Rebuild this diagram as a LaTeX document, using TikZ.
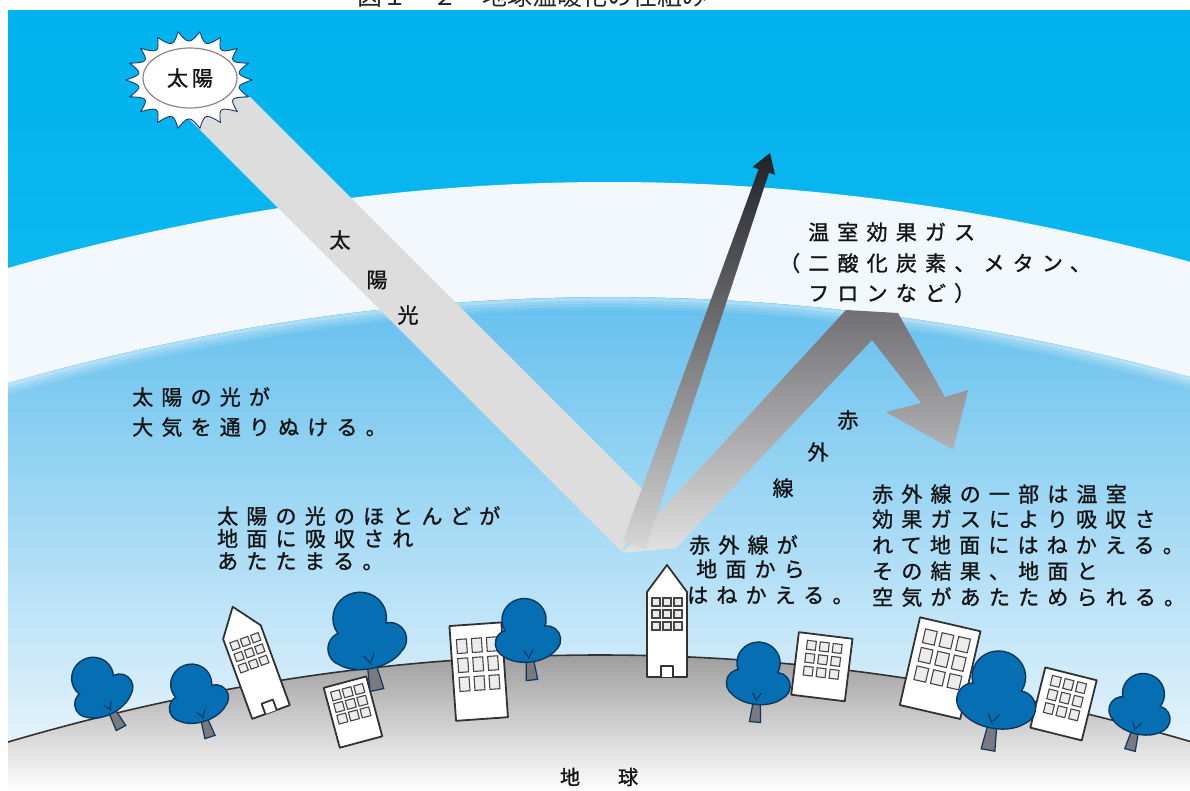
\documentclass[tikz,border=0pt]{standalone}
\usepackage{fontspec}
\newfontfamily\jp[FakeBold=1.2]{Noto Sans CJK JP}
\newfontfamily\jpsp[LetterSpace=39,FakeBold=1.2]{Noto Sans CJK JP}
\newfontfamily\jplight{Noto Sans CJK JP}
\usetikzlibrary{calc}

\definecolor{skytop}{RGB}{0,178,238}
\definecolor{skynear}{RGB}{18,186,240}
\definecolor{bandwhite}{RGB}{243,248,252}
\definecolor{lowtop}{RGB}{100,192,238}
\definecolor{lowmid}{RGB}{176,221,246}
\definecolor{lowbot}{RGB}{242,248,253}
\definecolor{beamgray}{RGB}{221,221,221}
\definecolor{groundtop}{RGB}{158,158,158}
\definecolor{groundmid}{RGB}{206,206,206}
\definecolor{groundline}{RGB}{50,50,50}
\definecolor{treeblue}{RGB}{6,110,178}
\definecolor{treeline}{RGB}{12,55,92}
\definecolor{trunkgray}{RGB}{122,122,126}
\definecolor{outline}{RGB}{50,50,50}
\definecolor{txt}{RGB}{20,20,20}
\definecolor{sunedge}{RGB}{25,55,110}
\definecolor{sunring}{RGB}{150,130,130}
\definecolor{irdark}{RGB}{32,32,38}
\definecolor{irmid}{RGB}{105,105,110}
\definecolor{irlight}{RGB}{214,214,214}
\definecolor{widetop}{RGB}{112,112,116}
\definecolor{widebot}{RGB}{226,226,226}

\tikzset{
  body/.style={font=\jpsp\fontsize{21}{24}\selectfont, text=txt, inner sep=0pt, anchor=base west},
  single/.style={font=\jp\fontsize{21}{24}\selectfont, text=txt, inner sep=0pt},
  trunk/.style={fill=trunkgray, draw=treeline, line width=1.2pt},
  canopyrim/.style={fill=treeline, draw=treeline, line width=3pt},
  canopy/.style={fill=treeblue},
  branch/.style={draw=treeline, line width=1.1pt},
  bldg/.style={fill=white, draw=outline, line width=1.8pt, line join=round},
  win/.style={fill=gray!15, draw=gray!55!black, line width=1.1pt},
  declare function={tw(\t)=(abs(2*mod(\t,20)/20-1))^2;
                    arcb(\t)=((\t-610)/64.92)^2;
                    hill(\t)=((\t-600)/63.47)^2;}
}

% tree standing at (#1,#2), tilted by #3 degrees, scaled by #4
\newcommand\citytree[4]{%
  \begin{scope}[shift={(#1,#2)},rotate=#3,scale=#4]
    \path[trunk] (-7,0) -- (7,0) -- (3.5,-34) -- (-3.5,-34) -- cycle;
    \path[canopyrim] (0,-45) ellipse [x radius=37,y radius=22]
      (-23,-47) circle [radius=16] (23,-47) circle [radius=16]
      (-2,-74) ellipse [x radius=26,y radius=25];
    \path[canopy] (0,-45) ellipse [x radius=37,y radius=22]
      (-23,-47) circle [radius=16] (23,-47) circle [radius=16]
      (-2,-74) ellipse [x radius=26,y radius=25];
    \path[branch] (0,-26) -- (-6,-36) (0,-29) -- (5,-37);
  \end{scope}}

% tower with pointed roof, base centre (#1,#2), tilted by #3 degrees
\newcommand\towerbldg[3]{%
  \begin{scope}[shift={(#1,#2)},rotate=#3]
    \path[bldg] (-20,0) -- (20,0) -- (20,-85) -- (0,-112) -- (-20,-85) -- cycle;
    \foreach \r in {0,1,2} \foreach \c in {0,1,2}
      \path[win] (-15+\c*11,-79+\r*12) rectangle ++(8,8);
    \path[bldg] (-6,0) -- (-6,-11) -- (6,-11) -- (6,0);
  \end{scope}}

% block building: base centre (#1,#2), tilt #3, width #4, height #5,
% window size #6 x #7, window gap #8, top of window grid #9 above base
\newcommand\blockbldg[9]{%
  \begin{scope}[shift={(#1,#2)},rotate=#3]
    \path[bldg] ({-#4/2},0) rectangle ({#4/2},-#5);
    \foreach \r in {0,1,2} \foreach \c in {0,1,2}
      \path[win] ({-(3*#6+2*#8)/2+\c*(#6+#8)},{-#9+\r*(#7+#8)}) rectangle ++(#6,#7);
  \end{scope}}

\begin{document}
\begin{tikzpicture}[x=1pt,y=-1pt]
\useasboundingbox (0,0) rectangle (1190,791);
\fill[white] (0,0) rectangle (1190,791);

% caption (its upper half lies above the page edge)
\node[font=\jplight\fontsize{25}{28}\selectfont, text=gray!30!black, inner sep=0pt, anchor=base west]
  (caption) at (357,5.5) {図１－２　地球温暖化の仕組み};

% sky
\shade[top color=skytop, bottom color=skynear] (8,11) rectangle (1190,400);
\shade[top color=lowtop, middle color=lowmid, bottom color=lowbot]
  plot[domain=8:1190,samples=80] (\x,{297+arcb(\x)}) -- (1190,791) -- (8,791) -- cycle;

% greenhouse gas layer
\fill[bandwhite] plot[domain=8:1190,samples=80] (\x,{182+arcb(\x)})
  -- plot[domain=1190:8,samples=80] (\x,{297+arcb(\x)}) -- cycle;
\foreach \d/\o in {2/0.5,5/0.32,8/0.2,11/0.1}
  \draw[bandwhite, opacity=\o, line width=3.2pt]
    plot[domain=8:1190,samples=80] (\x,{297+\d+arcb(\x)});

% sunlight beam
\fill[beamgray] (175,105) -- (250,97) -- (648,495) -- (622,552) -- cycle;

% infrared reflected back by the layer
\coordinate (w1) at (622,553);
\coordinate (w2) at (846,310);
\coordinate (w3) at (898,313);
\coordinate (w4) at (945,397);
\coordinate (w5) at (968,390);
\coordinate (w6) at (953,450);
\coordinate (w7) at (886,412);
\coordinate (w8) at (921,403);
\coordinate (w9) at (872,340);
\coordinate (w10) at (676,548);
\shade[top color=widetop, bottom color=widebot]
  (w1) -- (w2) -- (w3) -- (w4) -- (w5) -- (w6) -- (w7) -- (w8) -- (w9) -- (w10) -- cycle;

% infrared escaping to space
\coordinate (d0) at (634,545);
\coordinate (d1) at (770,153);
\coordinate (dh) at ($(d1)!19pt!(d0)$);
\shade[top color=irdark, middle color=irmid, bottom color=irlight]
  ($(d0)!12pt!90:(d1)$) -- ($(dh)!5.5pt!90:(d1)$) -- ($(dh)!12pt!90:(d1)$) -- (d1)
  -- ($(dh)!12pt!-90:(d1)$) -- ($(dh)!5.5pt!-90:(d1)$) -- ($(d0)!12pt!-90:(d1)$) -- cycle;

% sun
\filldraw[fill=white, draw=sunedge, line width=0.9pt]
  plot[domain=0:360,samples=361] ({189+(51+12*tw(\x))*cos(\x)},{80+(39+10*tw(\x))*sin(\x)}) -- cycle;
\filldraw[fill=white, draw=sunring, line width=1.2pt] (190,78) ellipse [x radius=47, y radius=30];
\node[single] (sun) at (190,78) {太\hspace{4pt}陽};

% labels
\node[single] (bs1) at (340,240) {太};
\node[single] (bs2) at (377,280) {陽};
\node[single] (bs3) at (408,315) {光};
\node[single] (ira) at (848,420) {赤};
\node[single] (irb) at (818,452) {外};
\node[single] (irc) at (783,488) {線};

\node[body] (gh1) at (808,240) {温室効果ガス};
\node[body] (gh2) at (779,271) {（二酸化炭素、メタン、};
\node[body] (gh3) at (808,301) {フロンなど）};

\node[body] (sa1) at (132,405) {太陽の光が};
\node[body] (sa2) at (132,435) {大気を通りぬける。};

\node[body] (gb1) at (217,524) {太陽の光のほとんどが};
\node[body] (gb2) at (217,546.5) {地面に吸収され};
\node[body] (gb3) at (217,569) {あたたまる。};

\node[body] (ir1) at (689,553) {赤外線が};
\node[body] (ir2) at (696,577) {地面から};
\node[body] (ir3) at (687,603) {はねかえる。};

\node[body] (gr1) at (872,502) {赤外線の一部は温室};
\node[body] (gr2) at (872,527) {効果ガスにより吸収さ};
\node[body] (gr3) at (872,553) {れて地面にはねかえる。};
\node[body] (gr4) at (872,579) {その結果、地面と};
\node[body] (gr5) at (872,605) {空気があたためられる。};

% ground
\shade[top color=groundtop, middle color=groundmid, bottom color=white]
  (8,791) -- plot[domain=8:1190,samples=80] (\x,{655+hill(\x)}) -- (1190,791) -- cycle;
\draw[groundline, line width=1.6pt] plot[domain=8:1190,samples=80] (\x,{655+hill(\x)});

% town
\citytree{121}{728}{28}{0.78}
\citytree{210}{737}{18}{0.76}
\towerbldg{271}{712}{20}
\blockbldg{361}{742}{15}{44}{62}{9}{9}{3}{56}
\citytree{377}{690}{12}{1.0}
\blockbldg{482}{719}{4}{52}{95}{10}{14}{5}{81}
\citytree{532}{680}{6}{0.82}
\towerbldg{667}{677}{0}
\blockbldg{818}{698}{-7}{54}{63}{9}{9}{4}{56}
\citytree{755}{722}{-5}{0.80}
\blockbldg{930}{712}{-13}{62}{90}{12}{14}{5}{80}
\blockbldg{1056}{734}{-14}{53}{62}{9}{10}{4}{56}
\citytree{988}{750}{-10}{1.0}
\citytree{1130}{750}{-15}{0.78}

\node[single, font=\jp\fontsize{20}{24}\selectfont] (earth) at (599,777) {地\hspace{38pt}球};
\end{tikzpicture}
\end{document}
